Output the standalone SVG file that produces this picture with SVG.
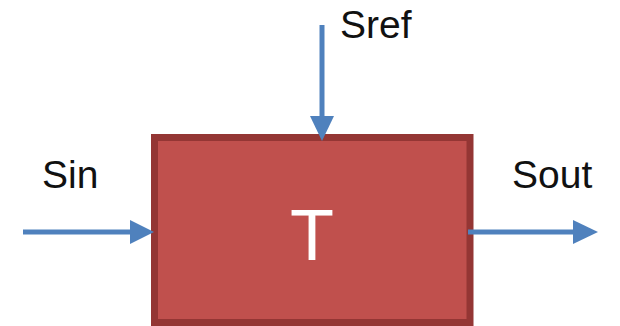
<svg xmlns="http://www.w3.org/2000/svg" width="620" height="326" viewBox="0 0 620 326">
<style>
.lbl{font-family:"Liberation Sans",Arial,sans-serif;font-size:39px;fill:#111}
.wire{stroke:#4F81BD;stroke-width:5;fill:none}
.head{fill:#4F81BD}
</style>
<rect width="620" height="326" fill="#fff"/>
<g id="node-T">
<rect x="154.5" y="137.5" width="315.5" height="185" fill="#C0504D" stroke="#943634" stroke-width="7"/>
<text x="312" y="260" text-anchor="middle" style="font-family:'Liberation Sans',Arial,sans-serif;font-size:72px;fill:#fff">T</text>
</g>
<g id="labels">
<text class="lbl" x="340" y="38">Sref</text>
<text class="lbl" x="42" y="188">Sin</text>
<text class="lbl" x="512" y="188">Sout</text>
</g>
<g id="connectors">
<line class="wire" x1="322" y1="25" x2="322" y2="118"/>
<polygon class="head" points="310,116 334,116 322,141"/>
<line class="wire" x1="23" y1="232" x2="132" y2="232"/>
<polygon class="head" points="130,220 130,244 154,232"/>
<line class="wire" x1="468" y1="232" x2="576" y2="232"/>
<polygon class="head" points="573,220 573,244 598,232"/>
</g>
</svg>
